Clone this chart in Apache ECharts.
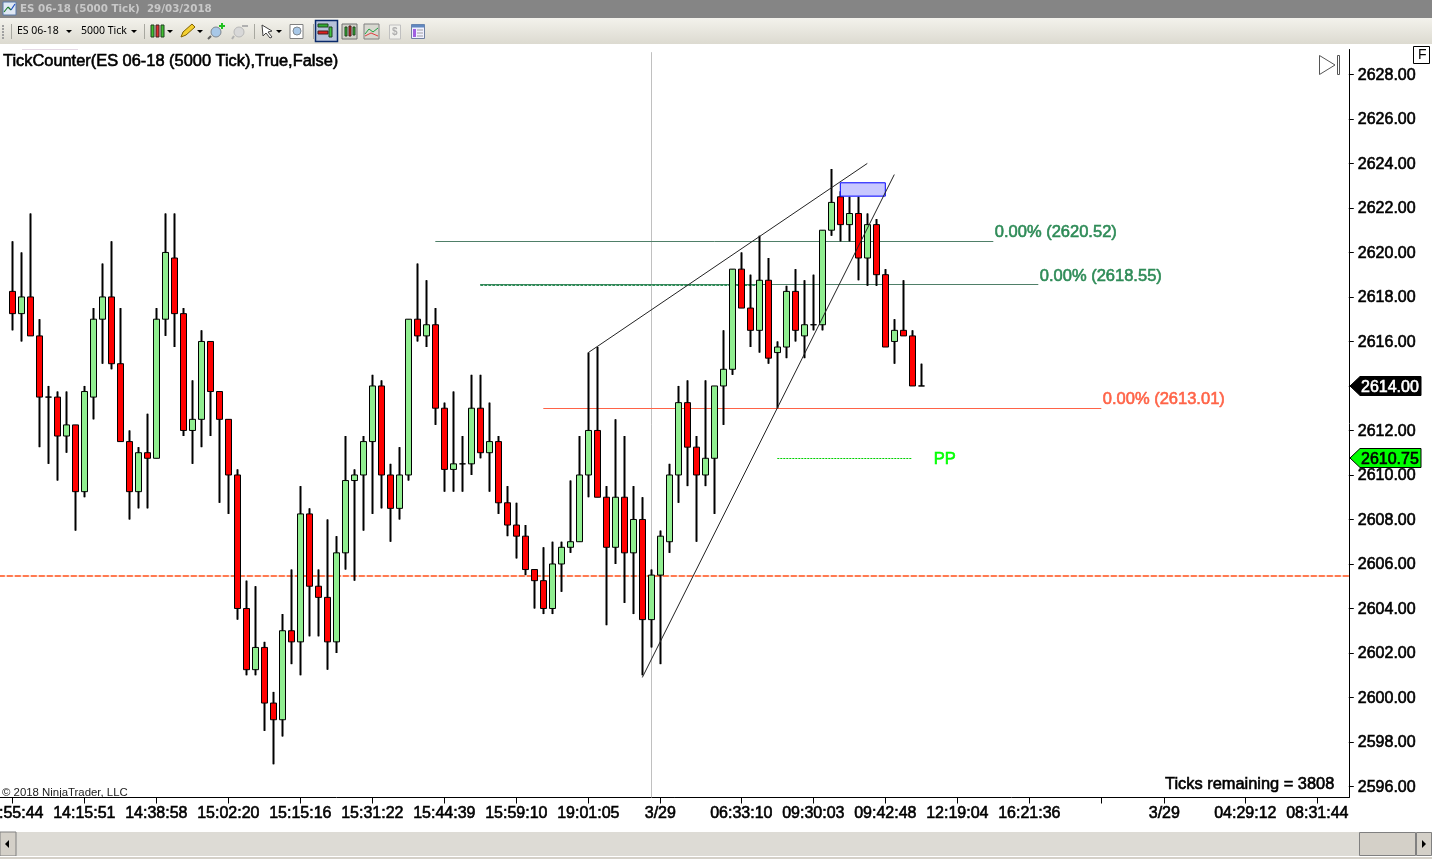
<!DOCTYPE html>
<html>
<head>
<meta charset="utf-8">
<style>html,body{margin:0;padding:0;background:#fff;overflow:hidden}#c{width:1432px;height:859px}</style>
<script src="https://cdn.jsdelivr.net/npm/echarts@6/dist/echarts.min.js"></script>
</head>
<body>
<div id="c"></div>
<script>
const opens = [2618.25,2617.25,2618,2616.25,2613.5,2613.5,2611.75,2612.25,2609.25,2613.5,2617,2618,2615,2611.5,2609.25,2611,2610.75,2617,2619.75,2617.25,2612,2612.5,2616,2613.75,2612.5,2610,2604,2601.25,2602.25,2599.75,2599,2603,2602.5,2608.25,2605,2604.5,2602.5,2606.5,2609.75,2610,2611.5,2614,2610,2608.5,2610,2617,2616.25,2616.75,2613,2610.25,2610.5,2610.5,2613,2611,2611.5,2608.75,2607.75,2607.25,2605.75,2605.25,2604,2606,2606.75,2607,2610,2612,2609,2606.75,2609,2606.5,2608,2603.5,2605.5,2607,2610,2613.25,2611.25,2610,2610.75,2614,2614.75,2619.25,2617.5,2616.5,2618.75,2615.5,2615.75,2618.25,2616.25,2616.75,2616.75,2621,2622.5,2621.25,2621.75,2619.75,2621.25,2619,2616,2616.5,2616.25,2614];
const closes = [2617.25,2618,2616.25,2613.5,2613.5,2611.75,2612.25,2609.25,2613.75,2617,2618,2615,2611.5,2609.25,2611,2610.75,2617,2620,2617.25,2612,2612.5,2616,2613.75,2612.5,2610,2604,2601.25,2602.25,2599.75,2599,2603,2602.5,2608.25,2605,2604.5,2602.5,2606.5,2609.75,2610,2611.5,2614,2610,2608.5,2610,2617,2616.25,2616.75,2613,2610.25,2610.5,2610.5,2613,2611,2611.5,2608.75,2607.75,2607.25,2605.75,2605.25,2604,2606,2606.75,2607,2610,2612,2609,2606.75,2609,2606.5,2608,2603.5,2605.5,2607.25,2610,2613.25,2611.25,2610,2610.75,2614,2614.75,2619.25,2617.5,2616.5,2618.75,2615.25,2615.75,2618.25,2616.5,2616.75,2616.75,2621,2622.25,2621.25,2621.75,2619.75,2621.25,2619,2615.75,2616.5,2616.25,2614,2614];
const lows = [2616.5,2616,2616.25,2611.25,2610.5,2609.75,2611,2607.5,2609,2612.5,2615,2614.75,2611.5,2608,2608.5,2608.5,2610.75,2616.25,2615.75,2611.75,2610.5,2611.25,2611.75,2608.75,2608.25,2603.5,2601,2601,2598.5,2597,2598.25,2601.5,2601,2602.75,2602.75,2601.25,2602,2605.75,2605.25,2607.5,2608.25,2608.5,2607,2608,2609.75,2616,2615.75,2612.25,2609.25,2609.25,2609.25,2610,2610.75,2609.25,2608.25,2607.25,2606.25,2605.5,2604,2603.75,2603.75,2604.75,2606.5,2607,2609,2609,2603.25,2606,2604.25,2603.75,2601,2602.25,2601.5,2606.5,2608.75,2609.5,2607,2609.5,2608.25,2612.25,2614.5,2617.5,2615.75,2615.5,2615,2613,2615.25,2616,2615.25,2616.5,2616.5,2620.75,2620.5,2620.5,2618.75,2618.5,2618.5,2615.75,2615,2616.25,2614,2614];
const highs = [2620.5,2620,2621.75,2617,2614,2613.75,2613.75,2612.25,2614,2617.5,2619.5,2620.5,2617.5,2612,2611.25,2612.75,2617.5,2621.75,2621.75,2617.5,2614.25,2616.5,2616,2613.75,2612.5,2610.25,2605.25,2605,2602.5,2600.25,2603.75,2605.75,2609.5,2608.5,2605.75,2608,2607.25,2611.75,2610.25,2611.75,2614.5,2614.25,2610.5,2611.25,2617,2619.5,2618.75,2617.5,2613.25,2613.75,2611.75,2614.5,2614.5,2613.25,2611.75,2609.5,2608.75,2607.75,2605.75,2606.75,2607,2607,2609.75,2611.75,2615.5,2615.75,2609.5,2612.5,2611.75,2609.5,2609,2605.75,2607.5,2610.5,2614,2614.25,2611.75,2614.25,2614,2616.5,2619.25,2620,2619,2620.75,2619.75,2616,2618.5,2619.25,2618.75,2619,2621,2623.75,2622.75,2622.5,2622.5,2621.75,2621.5,2619.25,2617,2618.75,2616.5,2615];

const yTicks = [2596,2598,2600,2602,2604,2606,2608,2610,2612,2614,2616,2618,2620,2622,2624,2626,2628];
const tickBars = [0,8,16,24,32,40,48,56,64,72,81,89,97,105,113,121,128,137,145];
const tickLabels = ['13:55:44','14:15:51','14:38:58','15:02:20','15:15:16','15:31:22','15:44:39','15:59:10','19:01:05','3/29','06:33:10','09:30:03','09:42:48','12:19:04','16:21:36','','3/29','04:29:12','08:31:44'];
const lastPrice = 2614.00;
const askPrice = 2610.75;
const pad = 1, catCount = 150;   // one empty band before the first visible bar

const trendLines = [[64,2615.5,95,2624],[70,2600.9,98,2623.5]];
const greenLevels = [[47,109,2620.52,'0.00% (2620.52)'],[52,114,2618.55,'0.00% (2618.55)']];
const redLevel = [59,121,2613.01,'0.00% (2613.01)'];
const dottedLevel = [52,83,2618.55];
const pivotLine = [85,100,2610.75];
const stopLevel = 2605.47;
const cursorBar = 71, cursorTop = 2629;
const blueBox = [92,97,2623.13,2622.53];

const cats = Array.from({length:catCount},()=>'');
tickBars.forEach((b,i)=>{cats[b+pad]=tickLabels[i];});
const tickSet = new Set(tickBars.map(b=>b+pad));
const ohlc = [['-','-','-','-']].concat(opens.map((o,i)=>[o,closes[i],lows[i],highs[i]]));
const sans = '"Liberation Sans",Arial,sans-serif';
const axisFont = {fontFamily:sans,fontSize:16,color:'#000',textBorderColor:'#000',textBorderWidth:0.6};
const capLabel = (coord,text,color,offset,distance)=>({coord,value:0,label:{show:true,position:'right',distance,offset,formatter:text,
  fontFamily:sans,fontSize:16.5,color,textBorderColor:color,textBorderWidth:0.6}});

const chart = echarts.init(document.getElementById('c'),null,{renderer:'canvas'});
const baseCandle = {type:'candlestick',xAxisIndex:0,yAxisIndex:0,data:ohlc,silent:true,animation:false};
const baseMark = {silent:true,symbol:'none',animation:false,label:{show:false},emphasis:{disabled:true}};
chart.setOption({
  animation:false,
  backgroundColor:'#fff',
  grid:{left:-1.2,top:49.5,width:1350,height:748,containLabel:false,outerBoundsMode:'none'},
  xAxis:{type:'category',data:cats,boundaryGap:true,
    axisLine:{show:true,lineStyle:{color:'#000',width:1}},
    axisTick:{show:true,alignWithLabel:true,length:6,interval:i=>tickSet.has(i),lineStyle:{color:'#000',width:1}},
    axisLabel:Object.assign({show:true,interval:i=>tickSet.has(i),margin:8},axisFont),
    splitLine:{show:false}},
  yAxis:{type:'value',position:'right',min:2595.506,max:2629.12,scale:true,
    axisLine:{show:true,onZero:false,lineStyle:{color:'#000',width:1}},
    axisTick:{show:true,length:5,customValues:yTicks,lineStyle:{color:'#000',width:1}},
    axisLabel:Object.assign({show:true,customValues:yTicks,margin:9,verticalAlign:'top',padding:[-7,0,0,0],formatter:v=>v.toFixed(2)},axisFont),
    splitLine:{show:false}},
  series:[
    {type:'line',data:[],silent:true,z:1,
     markLine:Object.assign({},baseMark,{z:1,
      data:[
        [{coord:[cursorBar+pad,cursorTop],lineStyle:{color:'#c0c0c0',width:1,type:'solid'}},{coord:[cursorBar+pad,2595.506]}],
        {yAxis:stopLevel,lineStyle:{color:'#ffe2da',width:2,type:'solid'}},
        {yAxis:stopLevel,lineStyle:{color:'#ff7a50',width:2,type:[6,2]}},
        ...greenLevels.map(l=>[{coord:[l[0]+pad,l[2]],lineStyle:{color:'#4f7f68',width:1,type:'solid'}},{coord:[l[1]+pad,l[2]]}]),
        [{coord:[dottedLevel[0]+pad,dottedLevel[2]],lineStyle:{color:'#2e8b57',width:2,type:[3,1]}},{coord:[dottedLevel[1]+pad,dottedLevel[2]]}],
        [{coord:[pivotLine[0]+pad,pivotLine[2]],lineStyle:{color:'#00d000',width:1,type:[2,1]}},{coord:[pivotLine[1]+pad,pivotLine[2]]}]
      ]})},
    {type:'line',data:[],silent:true,z:1,
     markLine:Object.assign({},baseMark,{z:1,lineStyle:{color:'#ff6347',width:1.2,type:'solid',opacity:1},
      data:[[{coord:[redLevel[0]+pad,redLevel[2]]},{coord:[redLevel[1]+pad,redLevel[2]]}]]})},
    Object.assign({},baseCandle,{name:'wick',z:2,barWidth:1,itemStyle:{color:'#000',color0:'#000',borderColor:'#000',borderColor0:'#000',borderColorDoji:'#000',borderWidth:2}}),
    Object.assign({},baseCandle,{name:'ES 06-18',z:3,barWidth:6,itemStyle:{color:'#90ee90',color0:'#ff0000',borderColor:'#000',borderColor0:'#000',borderColorDoji:'#000',borderWidth:1}}),
    {type:'line',data:[],silent:true,z:4,
     markLine:Object.assign({},baseMark,{z:4,lineStyle:{color:'#222',width:1,type:'solid'},
      data:trendLines.map(t=>[{coord:[t[0]+pad,t[1]]},{coord:[t[2]+pad,t[3]]}])}),
     markArea:{silent:true,z:4,animation:false,itemStyle:{color:'#c8c8ff',borderColor:'#0000ff',borderWidth:1},
      data:[[{coord:[blueBox[0]+pad,blueBox[2]]},{coord:[blueBox[1]+pad,blueBox[3]]}]]},
     markPoint:{silent:true,z:5,animation:false,symbol:'circle',symbolSize:1,itemStyle:{color:'transparent'},
      data:[
        ...greenLevels.map(l=>capLabel([l[1]+pad,l[2]],l[3],'#2e8b57',[0,-8.5],1)),
        capLabel([redLevel[1]+pad,redLevel[2]],redLevel[3],'#ff6347',[0,-8.5],1),
        capLabel([pivotLine[1]+pad,pivotLine[2]],'PP','#00ff00',[0,1.5],21)
      ]}}
  ]
});

// window furniture and price tags
const g = [];
const rect=(x,y,w,h,fill,stroke,lw)=>g.push({type:'rect',silent:true,z:50,shape:{x,y,width:w,height:h},style:{fill:fill||'none',stroke:stroke||'none',lineWidth:lw||1}});
const line=(x1,y1,x2,y2,c,w)=>g.push({type:'line',silent:true,z:51,shape:{x1,y1,x2,y2},style:{stroke:c,lineWidth:w||1}});
const poly=(pts,fill,stroke,lw)=>g.push({type:'polygon',silent:true,z:52,shape:{points:pts},style:{fill:fill||'none',stroke:stroke||'none',lineWidth:lw||1}});
const txt=(x,y,s,size,fill,opts)=>g.push({type:'text',silent:true,z:53,x,y:y+1.5,style:Object.assign({text:s,font:size+'px '+sans,fill,verticalAlign:'middle',align:'left'},opts||{})});
const arrow=(x)=>poly([[x,30],[x+6,30],[x+3,33]],'#000');
const small='"Noto Sans",sans-serif';
// title bar
rect(0,0,1432,18,'#858585');
rect(3,2,13,13,'#dfe8f4','#5a7ba8');
line(4,12,8,7,'#1a7a2a',1.2);line(8,7,11,10,'#1a7a2a',1.2);line(11,10,15,4,'#2050c0',1.2);
txt(20,7.5,'ES 06-18 (5000 Tick)  29/03/2018',10.3,'#c8c8c8',{font:'bold 10.3px "DejaVu Sans",sans-serif'});
// toolbar
g.push({type:'rect',silent:true,z:50,shape:{x:0,y:18,width:1432,height:26},style:{fill:new echarts.graphic.LinearGradient(0,0,0,1,[{offset:0,color:'#f3f2ec'},{offset:1,color:'#dcdad0'}])}});
for(let y=25;y<38;y+=3) rect(2,y,2,2,'#a0a0a0');
line(11.5,24,11.5,39,'#a8a8a0');
txt(17,29.5,'ES 06-18',10.5,'#000',{font:'10.5px '+small}); arrow(66);
txt(81,29.5,'5000 Tick',10.5,'#000',{font:'10.5px '+small}); arrow(131);
line(144.5,24,144.5,39,'#a8a8a0');
rect(151,25,3,12,'#40c030','#204020');rect(156,25,3,12,'#e03030','#402020');rect(161,25,3,12,'#40c030','#204020');arrow(167);
poly([[181,37],[183,32],[192,24],[195,27],[186,35]],'#f4d030','#806000');arrow(197);
g.push({type:'circle',silent:true,z:52,shape:{cx:216,cy:32,r:5},style:{fill:'#a8c8e8',stroke:'#808890'}});line(211,36,208,39,'#606060',2);
line(219,26,225,26,'#20c020',2);line(222,23,222,29,'#20c020',2);
g.push({type:'circle',silent:true,z:52,shape:{cx:239,cy:32,r:5},style:{fill:'#d8d8d8',stroke:'#b8b8b8'}});line(234,36,232,39,'#b0b0b0',2);line(242,26,248,26,'#b0b0b0',2);
line(254.5,24,254.5,39,'#a8a8a0');
poly([[262,25],[272,31],[268,32],[272,37],[270,38],[266,33],[263,36]],'#fff','#404040');arrow(276);
rect(290,24.5,13,14,'#fff','#808080');g.push({type:'circle',silent:true,z:52,shape:{cx:297,cy:31,r:4},style:{fill:'#a8c8e8',stroke:'#808890'}});
line(313.5,24,313.5,39,'#a8a8a0');
rect(315.5,20.5,22,21,'#b6c2da','#0a2a6a',1.5);
rect(318,24,10,3,'#30b030','#204020');rect(318,31,10,3,'#e02020','#402020');rect(329,27,3,10,'#40c040','#204020');
rect(342,24,15,15,'#d0d0c8','#707070');rect(345,27,2,9,'#30c030','#204020');rect(349,26,2,10,'#e02020','#402020');rect(353,27,2,8,'#30c030','#204020');
rect(364,24,15,15,'#d8d8d0','#808080');line(365,34,369,29,'#20a040');line(369,29,373,32,'#20a040');line(373,32,378,28,'#20a040');line(365,36,371,33,'#e04040');line(371,33,378,36,'#e04040');
rect(389.5,25,11,14,'#f0f0ec','#c0c0c0');txt(392,30.5,'$',10,'#b0b0b0',{font:'bold 10px '+sans});
rect(411.5,24.5,13,14,'#f0f0ff','#7080a0');rect(411.5,24.5,13,3,'#6088c0');rect(413,29,3,8,'#a060e0');line(417,30,423,30,'#a0a0a0');line(417,33,423,33,'#a0a0a0');line(417,36,423,36,'#a0a0a0');
// faint separator and chart captions
line(22,49.5,78,49.5,'#e4d8e4');
const ink={stroke:'#000',lineWidth:0.6};
txt(3,59.5,'TickCounter(ES 06-18 (5000 Tick),True,False)',16.4,'#000',ink);
txt(1165,782.5,'Ticks remaining = 3808',16.4,'#000',ink);
txt(2,791,'© 2018 NinjaTrader, LLC',11.4,'#222');
// go-to-end icon and F box
poly([[1319.5,55.5],[1335,65],[1319.5,74.5]],'#fff','#555');
rect(1337.5,55.5,2,19,'#fff','#555');
rect(1413.5,46.5,16,17,'#fff','#000');
txt(1418,53.5,'F',14,'#000');
// scrollbar
rect(0,832,1432,24,'#dddbd5');
rect(0,832,16,24,'#d4d0c8','#808080');poly([[9,840],[9,848],[5,844]],'#000');
rect(1359.5,832.5,56,23,'#d4d0c8','#808080');
rect(1416.5,832.5,15,23,'#d4d0c8','#808080');poly([[1422,840],[1422,848],[1426,844]],'#000');
rect(0,856,1432,1,'#ffffff');rect(0,857,1432,2,'#d4d0c8');
// price tags follow the axis scale
const tag=(v,fill,fg,stroke)=>{const y=Math.round(chart.convertToPixel({yAxisIndex:0},v));
  poly([[1350,y],[1360,y-9.5],[1421,y-9.5],[1421,y+9.5],[1360,y+9.5]],fill,stroke);
  txt(1361,y,v.toFixed(2),16,fg,{stroke:fg,lineWidth:0.6});};
tag(lastPrice,'#000','#fff','#000');
tag(askPrice,'#00ff00','#000','#000');
chart.setOption({graphic:{elements:g}});
</script>
</body>
</html>
